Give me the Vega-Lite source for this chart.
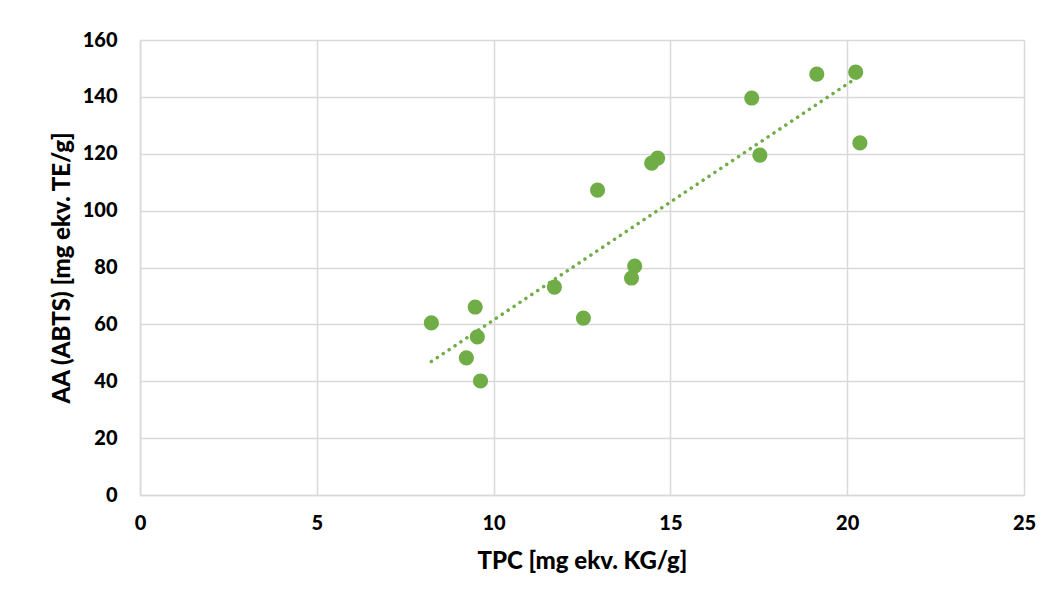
{
  "$schema": "https://vega.github.io/schema/vega-lite/v6.json",
  "width": 884,
  "height": 455,
  "autosize": "none",
  "padding": {"left": 140, "top": 40, "right": 30, "bottom": 113},
  "background": "white",
  "config": {
    "view": {"stroke": null},
    "axis": {
      "labelFont": "Lato",
      "titleFont": "Lato",
      "labelFontWeight": 900,
      "titleFontWeight": 900,
      "labelFontSize": 20,
      "titleFontSize": 24,
      "labelColor": "#000000",
      "titleColor": "#000000",
      "labelFlush": false,
      "gridColor": "#d9d9d9",
      "gridWidth": 1.5,
      "domainColor": "#d9d9d9",
      "domainWidth": 1.5,
      "ticks": false
    }
  },
  "data": {
    "values": [
      {"tpc": 8.24, "aa": 60.5},
      {"tpc": 9.48, "aa": 66.1},
      {"tpc": 9.54, "aa": 55.6},
      {"tpc": 9.23, "aa": 48.2},
      {"tpc": 9.63, "aa": 40.1},
      {"tpc": 11.72, "aa": 73.1},
      {"tpc": 12.54, "aa": 62.2},
      {"tpc": 12.94, "aa": 107.2},
      {"tpc": 13.9, "aa": 76.3},
      {"tpc": 13.99, "aa": 80.5},
      {"tpc": 14.47, "aa": 116.7},
      {"tpc": 14.64, "aa": 118.5},
      {"tpc": 17.3, "aa": 139.6},
      {"tpc": 17.53, "aa": 119.5},
      {"tpc": 19.14, "aa": 148.0},
      {"tpc": 20.24, "aa": 148.7},
      {"tpc": 20.36, "aa": 123.8}
    ]
  },
  "layer": [
    {
      "mark": {"type": "point", "filled": true, "size": 230, "color": "#70AD47", "opacity": 1},
      "encoding": {
        "x": {"field": "tpc", "type": "quantitative", "scale": {"domain": [0, 25], "nice": false},
          "axis": {"values": [0, 5, 10, 15, 20, 25], "title": "TPC [mg ekv. KG/g]", "labelPadding": 18, "titlePadding": 16, "grid": true}},
        "y": {"field": "aa", "type": "quantitative", "scale": {"domain": [0, 160], "nice": false},
          "axis": {"values": [0, 20, 40, 60, 80, 100, 120, 140, 160], "title": "AA (ABTS) [mg ekv. TE/g]", "labelPadding": 23, "titlePadding": 8}}
      }
    },
    {
      "transform": [{"regression": "aa", "on": "tpc"}],
      "mark": {"type": "line", "color": "#70AD47", "strokeWidth": 3.5, "strokeDash": [0.1, 7], "strokeCap": "round"},
      "encoding": {
        "x": {"field": "tpc", "type": "quantitative"},
        "y": {"field": "aa", "type": "quantitative"}
      }
    }
  ]
}
